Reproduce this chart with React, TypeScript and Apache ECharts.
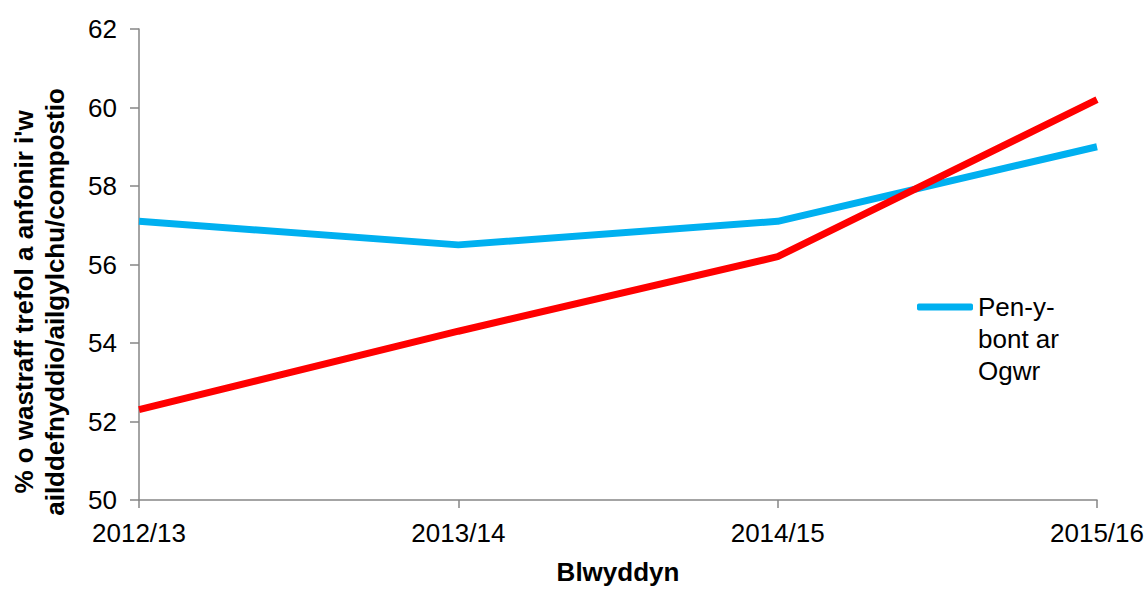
import React, { useEffect, useRef } from "react";
import * as echarts from "echarts";

const categories = ["2012/13", "2013/14", "2014/15", "2015/16"];
const penybontValues = [57.1, 56.5, 57.1, 59.0];
const cymruValues = [52.3, 54.3, 56.2, 60.2];
const yTitleLines = ["% o wastraff trefol a anfonir i'w", "ailddefnyddio/ailgylchu/compostio"];
const xTitle = "Blwyddyn";
const legendName = "Pen-y-bont ar Ogwr";
const legendLines = ["Pen-y-", "bont ar", "Ogwr"];
const FONT = "'Liberation Sans', Arial, sans-serif";

export default function App() {
  const ref = useRef<HTMLDivElement>(null);
  useEffect(() => {
    if (!ref.current) return;
    const chart = echarts.init(ref.current, null, { renderer: "svg" });
    chart.setOption({
      animation: false,
      backgroundColor: "#ffffff",
      grid: { left: 139, top: 29, right: 49, bottom: 85, containLabel: false },
      legend: {
        data: [legendName],
        left: 917,
        top: 227,
        padding: 0,
        icon: "roundRect",
        itemWidth: 56,
        itemHeight: 7,
        itemGap: 0,
        itemStyle: { color: "#00B0F0" },
        formatter: () => "\n\n" + legendLines.join("\n"),
        textStyle: {
          fontFamily: FONT,
          fontSize: 26,
          color: "#000",
          lineHeight: 32,
        },
      },
      xAxis: {
        type: "category",
        data: categories,
        boundaryGap: false,
        name: xTitle,
        nameLocation: "middle",
        nameGap: 59,
        nameTextStyle: { fontFamily: FONT, fontSize: 26, fontWeight: "bold", color: "#000" },
        axisLine: { lineStyle: { color: "#868686", width: 1.5 } },
        axisTick: { show: true, length: 8, lineStyle: { color: "#868686", width: 1.5 } },
        axisLabel: { fontFamily: FONT, fontSize: 26, color: "#000", margin: 20, showMinLabel: true, showMaxLabel: true, interval: 0 },
        splitLine: { show: false },
      },
      yAxis: {
        type: "value",
        min: 50,
        max: 62,
        interval: 2,
        axisLine: { show: true, lineStyle: { color: "#868686", width: 1.5 } },
        axisTick: { show: true, length: 9, lineStyle: { color: "#868686", width: 1.5 } },
        axisLabel: { fontFamily: FONT, fontSize: 26, color: "#000", margin: 22 },
        splitLine: { show: false },
      },
      graphic: [
        {
          type: "text",
          x: 39,
          y: 302,
          rotation: Math.PI / 2,
          style: {
            text: yTitleLines.join("\n"),
            font: "bold 26px 'Liberation Sans', Arial, sans-serif",
            fill: "#000",
            textAlign: "center",
            textVerticalAlign: "middle",
            lineHeight: 31,
          },
        },
      ],
      series: [
        {
          name: legendName,
          type: "line",
          data: penybontValues,
          symbol: "none",
          lineStyle: { color: "#00B0F0", width: 7 },
          itemStyle: { color: "#00B0F0" },
          z: 2,
        },
        {
          name: "Cymru",
          type: "line",
          data: cymruValues,
          symbol: "none",
          lineStyle: { color: "#FF0000", width: 7 },
          itemStyle: { color: "#FF0000" },
          z: 3,
        },
      ],
    });
    return () => chart.dispose();
  }, []);
  return (
    <div
      ref={ref}
      style={{ position: "fixed", left: 0, top: 0, width: 1147, height: 590, background: "#fff" }}
    />
  );
}
